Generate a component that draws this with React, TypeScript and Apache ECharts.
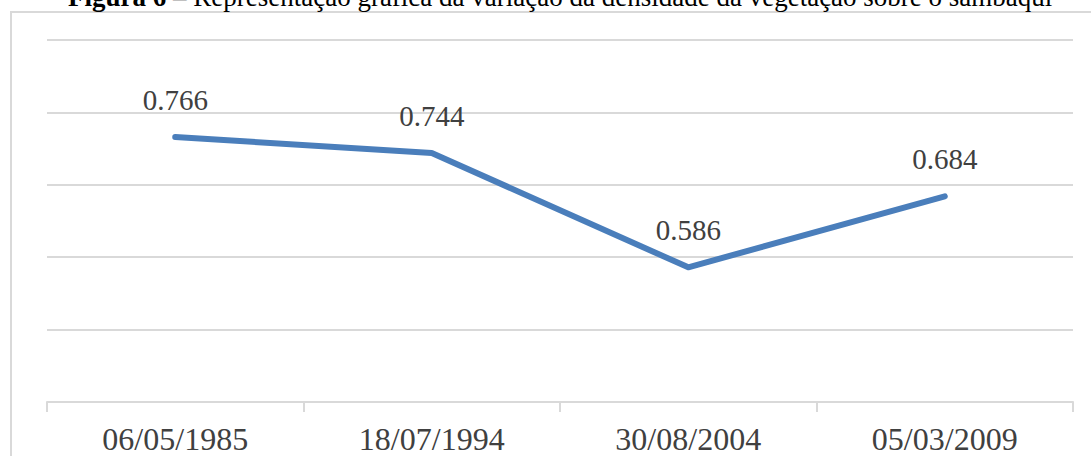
import React, { useEffect, useRef } from "react";
import * as echarts from "echarts";

const categories = ["06/05/1985", "18/07/1994", "30/08/2004", "05/03/2009"];
const densityValues = [0.766, 0.744, 0.586, 0.684];
const yMin = 0.4;
const yMax = 0.9;
const yInterval = 0.1;
const titleBold = "Figura 6";
const titleRest = " – Representação gráfica da variação da densidade da vegetação sobre o sambaqui";

export default function App() {
  const ref = useRef<HTMLDivElement>(null);
  useEffect(() => {
    if (!ref.current) return;
    const chart = echarts.init(ref.current, undefined, { renderer: "svg" });
    const font = '"Liberation Serif", "Times New Roman", serif';
    chart.setOption({
      animation: false,
      backgroundColor: "#ffffff",
      graphic: [
        {
          type: "rect",
          shape: { x: 11, y: 12, width: 1200, height: 600 },
          style: { fill: "none", stroke: "#d9d9d9", lineWidth: 2 },
          silent: true,
        },
        {
          type: "text",
          x: 68,
          y: -3,
          style: {
            text: "{b|" + titleBold + "}" + titleRest,
            fontFamily: font,
            fontSize: 27,
            fill: "#000",
            verticalAlign: "middle",
            rich: { b: { fontWeight: "bold", fontFamily: font, fontSize: 27, fill: "#000" } },
          },
        },
      ],
      grid: { left: 47, right: 18, top: 40, bottom: 54 },
      xAxis: {
        type: "category",
        data: categories,
        boundaryGap: true,
        axisLine: { show: true, lineStyle: { color: "#d9d9d9", width: 2 } },
        axisTick: { show: true, length: 10, lineStyle: { color: "#d9d9d9", width: 2 } },
        axisLabel: { fontFamily: font, fontSize: 32, color: "#404040", margin: 21 },
      },
      yAxis: {
        type: "value",
        min: yMin,
        max: yMax,
        interval: yInterval,
        axisLabel: { show: false },
        axisLine: { show: false },
        axisTick: { show: false },
        splitLine: { show: true, lineStyle: { color: "#d9d9d9", width: 2 } },
      },
      series: [
        {
          type: "line",
          data: densityValues,
          symbol: "circle",
          symbolSize: 1,
          showSymbol: true,
          itemStyle: { color: "#4a7ebb", opacity: 0 },
          lineStyle: { color: "#4a7ebb", width: 6, join: "round", cap: "round" },
          label: {
            show: true,
            position: "top",
            distance: 22,
            fontFamily: font,
            fontSize: 29,
            color: "#404040",
            opacity: 1,
            formatter: (p: any) => Number(p.value).toFixed(3),
          },
        },
      ],
    });
    return () => chart.dispose();
  }, []);
  return (
    <div
      ref={ref}
      style={{ position: "fixed", left: 0, top: 0, width: 1091, height: 456 }}
    />
  );
}
